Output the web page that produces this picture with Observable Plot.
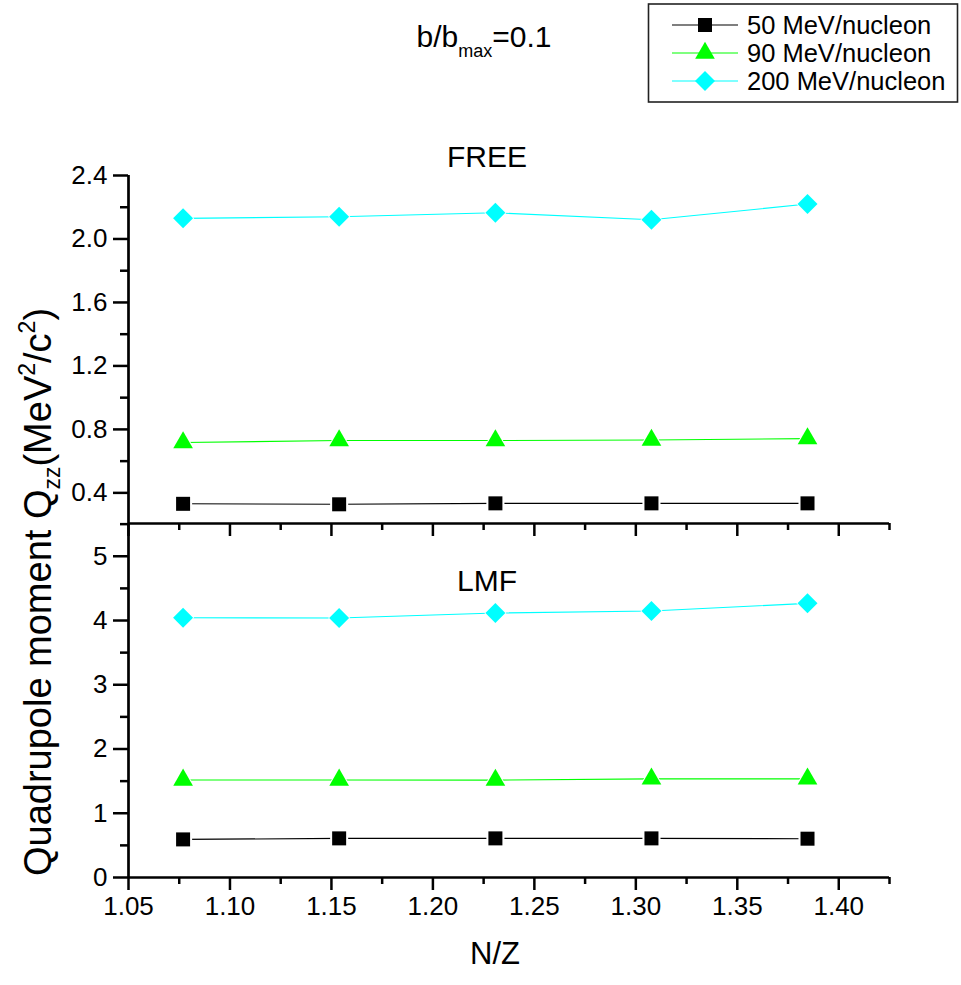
<!DOCTYPE html>
<html><head><meta charset="utf-8">
<script src="https://cdn.jsdelivr.net/npm/d3@7"></script>
<script src="https://cdn.jsdelivr.net/npm/@observablehq/plot@0.6"></script>
<style>
body{margin:0;background:#fff;}
#wrap{position:relative;width:961px;height:985px;overflow:hidden;background:#fff;font-family:"Liberation Sans",Arial,sans-serif;}
#wrap svg{position:absolute;left:0;top:0;}
</style></head><body><div id="wrap"></div>
<script>
// ---- data ----
const nz = [1.0769, 1.1538, 1.2308, 1.3077, 1.3846];
const energies = ["50 MeV/nucleon", "90 MeV/nucleon", "200 MeV/nucleon"];
const colors = ["#000000", "#00ff00", "#00ffff"];
const symbols = ["square", "triangle", "diamond2"];
const free50 = [0.331, 0.328, 0.334, 0.334, 0.334];
const free90 = [0.717, 0.730, 0.730, 0.733, 0.742];
const free200 = [2.130, 2.140, 2.165, 2.121, 2.220];
const lmf50 = [0.593, 0.609, 0.609, 0.609, 0.604];
const lmf90 = [1.518, 1.518, 1.515, 1.535, 1.535];
const lmf200 = [4.044, 4.038, 4.116, 4.147, 4.267];
const xTicks = [1.05, 1.10, 1.15, 1.20, 1.25, 1.30, 1.35, 1.40];
const xMinor = [1.075, 1.125, 1.175, 1.225, 1.275, 1.325, 1.375, 1.425];
const freeTicks = [0.4, 0.8, 1.2, 1.6, 2.0, 2.4];
const freeMinor = [0.6, 1.0, 1.4, 1.8, 2.2];
const lmfTicks = [0, 1, 2, 3, 4, 5];
const lmfMinor = [0.5, 1.5, 2.5, 3.5, 4.5, 5.5];
const panelTitles = ["FREE", "LMF"];

const xDomain = [1.05, 1.425];
const freeDomain = [0.207, 2.4];
const lmfDomain = [0, 5.51];
const markerR = [7.9, 7.3, 9];
const haloR = [10.2, 8.6, 10];
const FONT = "Liberation Sans, Arial, sans-serif";
const wrap = document.getElementById("wrap");

function seriesMarks(data) {
  return data.flatMap((arr, si) => {
    const d = arr.map((v, i) => ({x: nz[i], y: v}));
    return [
      Plot.line(d, {x: "x", y: "y", stroke: colors[si], strokeWidth: 1.1}),
      Plot.dot(d, {x: "x", y: "y", symbol: symbols[si], r: haloR[si], fill: "white", stroke: "none"}),
      Plot.dot(d, {x: "x", y: "y", symbol: symbols[si], r: markerR[si], fill: colors[si], stroke: "none"})
    ];
  });
}

function panel({domain, yTicks, yMinor, fmt, showX, title, titleDy, marginTop, marginBottom}) {
  return Plot.plot({
    width: 961, height: 985,
    marginLeft: 128, marginRight: 72, marginTop, marginBottom,
    style: {fontFamily: FONT, fontSize: "26px", color: "black", background: "transparent", overflow: "visible"},
    x: {domain: xDomain, label: null},
    y: {domain, label: null},
    marks: [
      Plot.axisY({ticks: yTicks, tickSize: 15, tickPadding: 6, strokeWidth: 2.5, tickFormat: d3.format(fmt), label: null, fontSize: 26}),
      Plot.axisY({ticks: yMinor, tickSize: 8, strokeWidth: 2.5, tickFormat: () => "", label: null}),
      Plot.axisX({ticks: xTicks, tickSize: 13, tickPadding: 6, strokeWidth: 2.5, tickFormat: showX ? d3.format(".2f") : () => "", label: null, fontSize: 26}),
      Plot.axisX({ticks: xMinor, tickSize: 7, strokeWidth: 2.5, tickFormat: () => "", label: null}),
      Plot.ruleX([xDomain[0]], {strokeWidth: 2.7}),
      Plot.ruleY([domain[0]], {strokeWidth: 2.7}),
      Plot.text([title], {frameAnchor: "top", dx: -22, dy: titleDy, lineAnchor: "bottom", fontSize: 30, fill: "black"}),
      ...seriesMarks(showX ? [lmf50, lmf90, lmf200] : [free50, free90, free200])
    ]
  });
}

wrap.append(panel({domain: freeDomain, yTicks: freeTicks, yMinor: freeMinor, fmt: ".1f", showX: false,
  title: panelTitles[0], titleDy: -9, marginTop: 175, marginBottom: 985 - 523}));
wrap.append(panel({domain: lmfDomain, yTicks: lmfTicks, yMinor: lmfMinor, fmt: "d", showX: true,
  title: panelTitles[1], titleDy: 67, marginTop: 523, marginBottom: 985 - 877}));

// ---- overlay: title, legend, axis labels ----
const svg = d3.select(wrap).append("svg").attr("width", 961).attr("height", 985)
  .style("font-family", FONT).style("pointer-events", "none");

const t = svg.append("text").attr("x", 484).attr("y", 47).attr("text-anchor", "middle").attr("font-size", 30);
t.append("tspan").text("b/b");
t.append("tspan").attr("font-size", 18).attr("dy", 10).text("max");
t.append("tspan").attr("dy", -10).text("=0.1");

const lg = svg.append("g");
lg.append("rect").attr("x", 648.5).attr("y", 4).attr("width", 309).attr("height", 98)
  .attr("fill", "white").attr("stroke", "#222").attr("stroke-width", 1.6);
const rowY = [25, 53, 81];
energies.forEach((name, i) => {
  const y = rowY[i];
  lg.append("line").attr("x1", 672).attr("x2", 738).attr("y1", y).attr("y2", y)
    .attr("stroke", colors[i]).attr("stroke-width", 1.2);
  const sym = [d3.symbolSquare, d3.symbolTriangle, d3.symbolDiamond2][i];
  lg.append("path").attr("transform", `translate(705,${y})`)
    .attr("d", d3.symbol(sym, Math.PI * markerR[i] * markerR[i])())
    .attr("fill", colors[i]);
  lg.append("text").attr("x", 747).attr("y", y + 9).attr("font-size", 25.5).text(name);
});

svg.append("text").attr("x", 495).attr("y", 964).attr("text-anchor", "middle").attr("font-size", 31).text("N/Z");

const yl = svg.append("text").attr("transform", "translate(51,592) rotate(-90)")
  .attr("text-anchor", "middle").attr("font-size", 38);
yl.append("tspan").text("Quadrupole moment Q");
yl.append("tspan").attr("font-size", 23).attr("dy", 9).text("zz");
yl.append("tspan").attr("dy", -9).text("(MeV");
yl.append("tspan").attr("font-size", 23).attr("dy", -16).text("2");
yl.append("tspan").attr("dy", 16).text("/c");
yl.append("tspan").attr("font-size", 23).attr("dy", -16).text("2");
yl.append("tspan").attr("dy", 16).text(")");
</script></body></html>
